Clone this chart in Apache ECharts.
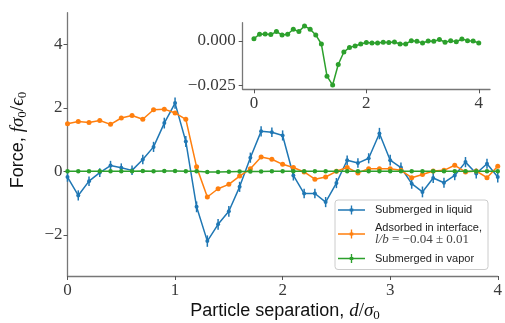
<!DOCTYPE html>
<html>
<head>
<meta charset="utf-8">
<script src="https://cdn.jsdelivr.net/npm/echarts@6/dist/echarts.min.js"></script>
<style>
html,body{margin:0;padding:0;background:#fff;}
#chart{width:505px;height:323px;}
</style>
</head>
<body>
<div id="chart"></div>
<script>
// Particle separation d/sigma0
const separation = [0.0,0.1,0.2,0.3,0.4,0.5,0.6,0.7,0.8,0.9,1.0,1.1,1.2,1.3,1.4,1.5,1.6,1.7,1.8,1.9,2.0,2.1,2.2,2.3,2.4,2.5,2.6,2.7,2.8,2.9,3.0,3.1,3.2,3.3,3.4,3.5,3.6,3.7,3.8,3.9,4.0];
// Submerged in liquid
const liquidForce = [-0.18,-0.76,-0.31,-0.04,0.18,0.11,0.03,0.37,0.77,1.52,2.15,0.94,-1.12,-2.20,-1.67,-1.26,-0.49,0.43,1.26,1.23,1.13,-0.13,-0.70,-0.70,-0.97,-0.37,0.35,0.26,0.41,1.19,0.35,0.12,-0.39,-0.65,-0.21,-0.36,-0.13,0.29,-0.07,0.24,-0.18];
const liquidError = [0.15,0.16,0.15,0.14,0.15,0.14,0.15,0.15,0.16,0.17,0.18,0.17,0.17,0.18,0.17,0.17,0.16,0.16,0.16,0.15,0.16,0.16,0.15,0.15,0.16,0.16,0.15,0.15,0.16,0.18,0.17,0.16,0.16,0.17,0.16,0.16,0.15,0.16,0.16,0.16,0.17];
// Adsorbed in interface
const interfaceForce = [1.50,1.57,1.54,1.60,1.48,1.68,1.76,1.64,1.94,1.96,1.84,1.64,0.14,-0.81,-0.55,-0.41,-0.15,0.08,0.45,0.38,0.22,0.12,-0.02,-0.25,-0.18,0.00,0.12,-0.05,0.08,0.08,0.08,0.03,-0.20,-0.10,0.01,0.03,0.19,-0.02,0.01,-0.20,0.16];
// Submerged in vapor
const vaporForce = [0.0013,0.0038,0.0040,0.0036,0.0053,0.0034,0.0038,0.0066,0.0053,0.0085,0.0066,0.0034,-0.0017,-0.0198,-0.0248,-0.0132,-0.0062,-0.0036,-0.0028,-0.0017,-0.0009,-0.0011,-0.0011,-0.0007,-0.0009,-0.0006,-0.0017,-0.0017,0.0002,-0.0002,-0.0011,0.0000,-0.0002,0.0009,-0.0007,0.0002,-0.0004,0.0011,0.0002,0.0000,-0.0011];
// tick labels
const mainXTicks = [0,1,2,3,4];
const mainYTicks = [-2,0,2,4];
const insetXTicks = [0,2,4];
const insetYTicks = [-0.025,0];

const BLUE='#1f77b4', ORANGE='#ff7f0e', GREEN='#2ca02c';
const SPINE='#777', TICK='#555', TXT='#3a3a3a';
const SERIF='"Liberation Serif", "DejaVu Serif", serif';
const SANS='"Liberation Sans", Arial, sans-serif';

const pairs = (ys) => separation.map((x,i)=>[x, ys[i]]);
const fmtNum = (v, d) => { const s = v.toFixed(d); return s.replace('-', '\u2212'); };

function axisCommon(){
  return {
    axisLine:{show:true, onZero:false, lineStyle:{color:SPINE, width:1.3}},
    axisTick:{show:true, inside:false, length:4, lineStyle:{color:TICK, width:1}},
    splitLine:{show:false},
    axisLabel:{color:TXT, fontFamily:SERIF, fontSize:17}
  };
}

const chart = echarts.init(document.getElementById('chart'), null, {renderer:'canvas'});
const icon = 'path://M0,8.5h60v3h-60z M28.5,0h3v20h-3z M26,6.5h8v7h-8z';

const titleRich = {
  a:{fontFamily:SANS, fontSize:18, fill:'#111', verticalAlign:'middle', lineHeight:22},
  m:{fontFamily:SERIF, fontStyle:'italic', fontSize:19, fill:'#111', verticalAlign:'middle', lineHeight:22},
  r:{fontFamily:SERIF, fontSize:19, fill:'#111', verticalAlign:'middle', lineHeight:22},
  s:{fontFamily:SERIF, fontSize:13, fill:'#111', verticalAlign:'bottom', lineHeight:22, padding:[7,0,0,0]}
};

const option = {
  animation:false,
  backgroundColor:'#fff',
  grid:[
    {left:67.5, top:12.7, width:431.8, height:263.3, containLabel:false},
    {left:242.7, top:22.7, width:247.3, height:66.6, containLabel:false}
  ],
  xAxis:[
    Object.assign(axisCommon(), {gridIndex:0, type:'value', min:0, max:4,
      axisLabel:Object.assign(axisCommon().axisLabel,{margin:6, customValues:mainXTicks, formatter:v=>fmtNum(v,0)}),
      axisTick:Object.assign(axisCommon().axisTick,{customValues:mainXTicks})}),
    Object.assign(axisCommon(), {gridIndex:1, type:'value', min:-0.2, max:4.2,
      axisLabel:Object.assign(axisCommon().axisLabel,{margin:6, customValues:insetXTicks, formatter:v=>fmtNum(v,0)}),
      axisTick:Object.assign(axisCommon().axisTick,{customValues:insetXTicks})})
  ],
  yAxis:[
    Object.assign(axisCommon(), {gridIndex:0, type:'value', min:-3.3, max:5,
      axisLabel:Object.assign(axisCommon().axisLabel,{margin:5, customValues:mainYTicks, formatter:v=>fmtNum(v,0)}),
      axisTick:Object.assign(axisCommon().axisTick,{customValues:mainYTicks})}),
    Object.assign(axisCommon(), {gridIndex:1, type:'value', min:-0.0272, max:0.0103,
      axisLabel:Object.assign(axisCommon().axisLabel,{margin:7, customValues:insetYTicks, formatter:v=>fmtNum(v,3)}),
      axisTick:Object.assign(axisCommon().axisTick,{customValues:insetYTicks})})
  ],
  legend:{
    left:335, top:200, orient:'vertical',
    padding:[4,6,5,3], itemGap:6, itemWidth:27, itemHeight:9,
    backgroundColor:'rgba(255,255,255,0.85)', borderColor:'#ccc', borderWidth:1, borderRadius:3,
    data:[
      {name:'liquid', icon:icon},
      {name:'interface', icon:icon},
      {name:'vapor', icon:icon}
    ],
    formatter:function(n){
      if(n==='liquid') return 'Submerged in liquid';
      if(n==='interface') return 'Adsorbed in interface,\n{it|l/b}{rm| = \u22120.04 \u00b1 0.01}';
      return 'Submerged in vapor';
    },
    textStyle:{fontFamily:SANS, fontSize:11, color:'#222', lineHeight:12, padding:[0,0,0,5],
      rich:{
        it:{fontFamily:SERIF, fontStyle:'italic', fontSize:13, color:'#444', lineHeight:12},
        rm:{fontFamily:SERIF, fontSize:13, color:'#444', lineHeight:12}
      }}
  },
  graphic:[
    {type:'text', x:285, y:311, silent:true,
      style:{text:'{a|Particle separation, }{m|d}{r|/}{m|\u03c3}{s|0}', align:'center', verticalAlign:'middle', rich:titleRich}},
    {type:'text', x:18, y:140, rotation:Math.PI/2, silent:true,
      style:{text:'{a|Force, }{m|f\u03c3}{s|0}{r|/}{m|\u03f5}{s|0}', align:'center', verticalAlign:'middle', rich:titleRich}}
  ],
  series:[
    {type:'custom', name:'liquidErr', xAxisIndex:0, yAxisIndex:0,
      data:separation.map((x,i)=>[x, liquidForce[i], liquidError[i]]),
      encode:{x:0, y:1},
      renderItem:function(params, api){
        const x=api.value(0), y=api.value(1), e=api.value(2);
        const p1=api.coord([x,y-e]), p2=api.coord([x,y+e]);
        return {type:'line', shape:{x1:p1[0],y1:p1[1],x2:p2[0],y2:p2[1]}, style:{stroke:BLUE, lineWidth:1.5}};
      }, z:2, silent:true},
    {type:'line', name:'liquid', xAxisIndex:0, yAxisIndex:0, data:pairs(liquidForce),
      symbol:'circle', symbolSize:4, showAllSymbol:true, lineStyle:{color:BLUE, width:1.5}, itemStyle:{color:BLUE}, z:2},
    {type:'line', name:'interface', xAxisIndex:0, yAxisIndex:0, data:pairs(interfaceForce),
      symbol:'circle', symbolSize:5, showAllSymbol:true, lineStyle:{color:ORANGE, width:1.5}, itemStyle:{color:ORANGE}, z:3},
    {type:'line', name:'vapor', xAxisIndex:0, yAxisIndex:0, data:pairs(vaporForce),
      symbol:'circle', symbolSize:4.5, showAllSymbol:true, lineStyle:{color:GREEN, width:1.5}, itemStyle:{color:GREEN}, z:4},
    {type:'line', name:'vaporInset', xAxisIndex:1, yAxisIndex:1, data:pairs(vaporForce),
      symbol:'circle', symbolSize:5, showAllSymbol:true, lineStyle:{color:GREEN, width:1.5}, itemStyle:{color:GREEN}, z:4}
  ]
};
chart.setOption(option);
</script>
</body>
</html>
